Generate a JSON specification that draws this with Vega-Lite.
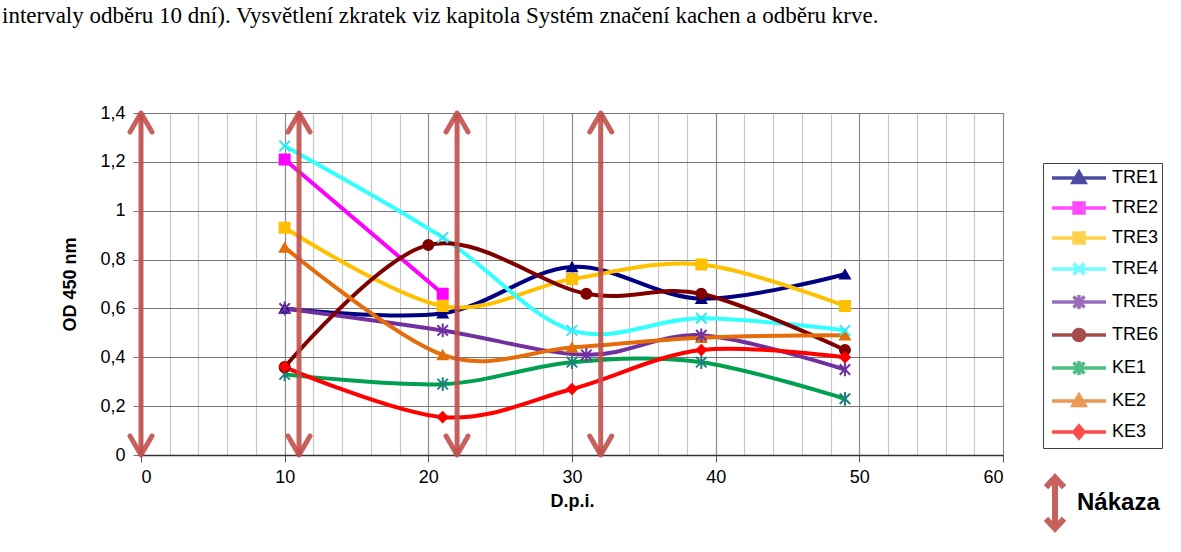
{
  "$schema": "https://vega.github.io/schema/vega-lite/v6.json",
  "width": 862,
  "height": 342,
  "autosize": {"type": "none"},
  "padding": {"left": 141, "top": 113, "right": 178, "bottom": 97},
  "background": "white",
  "title": {
    "text": "intervaly odběru 10 dní). Vysvětlení zkratek viz kapitola Systém značení kachen a odběru krve.",
    "anchor": "start",
    "frame": "group",
    "dx": -139,
    "offset": 58,
    "baseline": "alphabetic",
    "font": "Liberation Serif",
    "fontSize": 23,
    "fontWeight": "normal",
    "color": "black"
  },
  "config": {
    "view": {"stroke": null},
    "axis": {"labelFont": "Liberation Sans", "titleFont": "Liberation Sans", "labelColor": "black", "titleColor": "black"}
  },
  "resolve": {"axis": {"x": "independent"}},
  "datasets": {
    "series": [
      {"series": "TRE1", "day": 10, "od": 0.60},
      {"series": "TRE1", "day": 21, "od": 0.58},
      {"series": "TRE1", "day": 30, "od": 0.77},
      {"series": "TRE1", "day": 39, "od": 0.64},
      {"series": "TRE1", "day": 49, "od": 0.74},
      {"series": "TRE2", "day": 10, "od": 1.21},
      {"series": "TRE2", "day": 21, "od": 0.66},
      {"series": "TRE3", "day": 10, "od": 0.93},
      {"series": "TRE3", "day": 21, "od": 0.61},
      {"series": "TRE3", "day": 30, "od": 0.72},
      {"series": "TRE3", "day": 39, "od": 0.78},
      {"series": "TRE3", "day": 49, "od": 0.61},
      {"series": "TRE4", "day": 10, "od": 1.265},
      {"series": "TRE4", "day": 21, "od": 0.89},
      {"series": "TRE4", "day": 30, "od": 0.51},
      {"series": "TRE4", "day": 39, "od": 0.56},
      {"series": "TRE4", "day": 49, "od": 0.51},
      {"series": "TRE5", "day": 10, "od": 0.60},
      {"series": "TRE5", "day": 21, "od": 0.51},
      {"series": "TRE5", "day": 31, "od": 0.41},
      {"series": "TRE5", "day": 39, "od": 0.49},
      {"series": "TRE5", "day": 49, "od": 0.35},
      {"series": "TRE6", "day": 10, "od": 0.36},
      {"series": "TRE6", "day": 20, "od": 0.86},
      {"series": "TRE6", "day": 31, "od": 0.66},
      {"series": "TRE6", "day": 39, "od": 0.66},
      {"series": "TRE6", "day": 49, "od": 0.43},
      {"series": "KE1", "day": 10, "od": 0.33},
      {"series": "KE1", "day": 21, "od": 0.29},
      {"series": "KE1", "day": 30, "od": 0.38},
      {"series": "KE1", "day": 39, "od": 0.38},
      {"series": "KE1", "day": 49, "od": 0.23},
      {"series": "KE2", "day": 10, "od": 0.85},
      {"series": "KE2", "day": 21, "od": 0.41},
      {"series": "KE2", "day": 30, "od": 0.44},
      {"series": "KE2", "day": 39, "od": 0.48},
      {"series": "KE2", "day": 49, "od": 0.49},
      {"series": "KE3", "day": 10, "od": 0.36},
      {"series": "KE3", "day": 21, "od": 0.155},
      {"series": "KE3", "day": 30, "od": 0.27},
      {"series": "KE3", "day": 39, "od": 0.43},
      {"series": "KE3", "day": 49, "od": 0.40}
    ],
    "arrows": [
      {"day": 0}, {"day": 11}, {"day": 22}, {"day": 32}
    ]
  },
  "layer": [
    {
      "data": {"name": "series"},
      "mark": {"type": "point", "filled": true, "size": 0, "strokeWidth": 3.5},
      "encoding": {
        "x": {
          "field": "day", "type": "quantitative",
          "scale": {"domain": [0, 60], "nice": false},
          "axis": {
            "orient": "top",
            "values": [2,4,6,8,12,14,16,18,22,24,26,28,32,34,36,38,42,44,46,48,52,54,56,58],
            "labels": false,
            "ticks": false,
            "domain": false,
            "title": null,
            "grid": true,
            "gridColor": "#c8c8c8",
            "gridWidth": 1.2
          }
        },
        "y": {"field": "od", "type": "quantitative"},
        "color": {"field": "series", "type": "nominal"},
        "shape": {
          "field": "series", "type": "nominal",
          "scale": {
            "domain": ["TRE1", "TRE2", "TRE3", "TRE4", "TRE5", "TRE6", "KE1", "KE2", "KE3"],
            "range": [
              "M-2.7,0L2.7,0M0,-0.6L0.6,0.45L-0.6,0.45Z",
              "M-2.7,0L2.7,0M-0.5,-0.5L0.5,-0.5L0.5,0.5L-0.5,0.5Z",
              "M-2.7,0L2.7,0M-0.5,-0.5L0.5,-0.5L0.5,0.5L-0.5,0.5Z",
              "M-2.7,0L2.7,0M-0.55,-0.55L0.55,0.55M-0.55,0.55L0.55,-0.55",
              "M-2.7,0L2.7,0M-0.55,-0.55L0.55,0.55M-0.55,0.55L0.55,-0.55M0,-0.7L0,0.7",
              "M-2.7,0L2.7,0M0.55,0A0.55,0.55,0,1,1,-0.55,0A0.55,0.55,0,1,1,0.55,0Z",
              "M-2.7,0L2.7,0M-0.55,-0.55L0.55,0.55M-0.55,0.55L0.55,-0.55M0,-0.7L0,0.7",
              "M-2.7,0L2.7,0M0,-0.6L0.6,0.45L-0.6,0.45Z",
              "M-2.7,0L2.7,0M0,-0.6L0.5,0L0,0.6L-0.5,0Z"
            ]
          },
          "legend": null
        }
      }
    },
    {
      "data": {"name": "series"},
      "mark": {"type": "line", "interpolate": "cardinal", "strokeWidth": 4, "strokeCap": "round"},
      "encoding": {
        "x": {
          "field": "day", "type": "quantitative",
          "axis": {
            "orient": "bottom",
            "values": [0, 10, 20, 30, 40, 50, 60],
            "labelFontSize": 18,
            "labelPadding": 6,
            "title": "D.p.i.",
            "titleFontSize": 18,
            "titleFontWeight": "bold",
            "titlePadding": 6,
            "grid": true,
            "gridColor": "#8c8c8c",
            "gridWidth": 1.2,
            "tickColor": "#555555",
            "tickSize": 7,
            "domainColor": "#333333",
            "domainWidth": 1.5
          }
        },
        "y": {
          "field": "od", "type": "quantitative",
          "scale": {"domain": [0, 1.4], "nice": false},
          "axis": {
            "values": [0, 0.2, 0.4, 0.6, 0.8, 1, 1.2, 1.4],
            "labelExpr": "replace(format(datum.value, '~g'), '.', ',')",
            "labelFontSize": 18,
            "labelPadding": 8,
            "title": "OD 450 nm",
            "titleFontSize": 18,
            "titleFontWeight": "bold",
            "titlePadding": 20,
            "grid": true,
            "gridColor": "#777777",
            "gridWidth": 1.2,
            "tickColor": "#777777",
            "tickSize": 8,
            "domainColor": "#888888",
            "domainWidth": 1.5
          }
        },
        "color": {
          "field": "series", "type": "nominal",
          "scale": {
            "domain": ["TRE1", "TRE2", "TRE3", "TRE4", "TRE5", "TRE6", "KE1", "KE2", "KE3"],
            "range": ["#000080", "#FF00FF", "#FFC000", "#33FFFF", "#7030A0", "#800000", "#00A050", "#E46C0A", "#FF0000"]
          },
          "legend": {
            "title": null,
            "orient": "none",
            "legendX": 902,
            "legendY": 50,
            "padding": 3,
            "rowPadding": 6,
            "symbolSize": 400,
            "symbolOffset": 21,
            "symbolStrokeWidth": 3.5,
            "symbolOpacity": 1,
            "labelOffset": 21,
            "labelFont": "Liberation Sans",
            "labelFontSize": 18,
            "labelColor": "black",
            "labelExpr": "datum.label + '     '",
            "strokeColor": "#404040"
          }
        }
      }
    },
    {
      "data": {"name": "series"},
      "transform": [{"filter": {"field": "series", "oneOf": ["TRE1", "KE2"]}}],
      "mark": {"type": "point", "shape": "triangle-up", "size": 110, "strokeWidth": 1.5, "opacity": 1},
      "encoding": {
        "x": {"field": "day", "type": "quantitative", "axis": null},
        "y": {"field": "od", "type": "quantitative"},
        "fill": {"field": "series", "type": "nominal", "scale": {"domain": ["TRE1", "TRE2", "TRE3", "TRE4", "TRE5", "TRE6", "KE1", "KE2", "KE3"], "range": ["#000080", "#FF00FF", "#FFC000", "#33E8F0", "#7030A0", "#800000", "#218080", "#E46C0A", "#FF0000"]}, "legend": null},
        "stroke": {"field": "series", "type": "nominal", "scale": {"domain": ["TRE1", "TRE2", "TRE3", "TRE4", "TRE5", "TRE6", "KE1", "KE2", "KE3"], "range": ["#000080", "#FF00FF", "#FFC000", "#33E8F0", "#7030A0", "#800000", "#218080", "#E46C0A", "#FF0000"]}, "legend": null}
      }
    },
    {
      "data": {"name": "series"},
      "transform": [{"filter": {"field": "series", "oneOf": ["TRE2", "TRE3"]}}],
      "mark": {"type": "point", "shape": "square", "size": 110, "strokeWidth": 1.5, "opacity": 1},
      "encoding": {
        "x": {"field": "day", "type": "quantitative", "axis": null},
        "y": {"field": "od", "type": "quantitative"},
        "fill": {"field": "series", "type": "nominal", "legend": null},
        "stroke": {"field": "series", "type": "nominal", "legend": null}
      }
    },
    {
      "data": {"name": "series"},
      "transform": [{"filter": {"field": "series", "oneOf": ["TRE4"]}}],
      "mark": {"type": "point", "shape": "M-1,-1L1,1M-1,1L1,-1", "size": 110, "strokeWidth": 2, "opacity": 1},
      "encoding": {
        "x": {"field": "day", "type": "quantitative", "axis": null},
        "y": {"field": "od", "type": "quantitative"},
        "fill": {"field": "series", "type": "nominal", "legend": null},
        "stroke": {"field": "series", "type": "nominal", "legend": null}
      }
    },
    {
      "data": {"name": "series"},
      "transform": [{"filter": {"field": "series", "oneOf": ["TRE5", "KE1"]}}],
      "mark": {"type": "point", "shape": "M-1,-1L1,1M-1,1L1,-1M0,-1.3L0,1.3", "size": 110, "strokeWidth": 2, "opacity": 1},
      "encoding": {
        "x": {"field": "day", "type": "quantitative", "axis": null},
        "y": {"field": "od", "type": "quantitative"},
        "fill": {"field": "series", "type": "nominal", "legend": null},
        "stroke": {"field": "series", "type": "nominal", "legend": null}
      }
    },
    {
      "data": {"name": "series"},
      "transform": [{"filter": {"field": "series", "oneOf": ["TRE6"]}}],
      "mark": {"type": "point", "shape": "circle", "size": 110, "strokeWidth": 1.5, "opacity": 1},
      "encoding": {
        "x": {"field": "day", "type": "quantitative", "axis": null},
        "y": {"field": "od", "type": "quantitative"},
        "fill": {"field": "series", "type": "nominal", "legend": null},
        "stroke": {"field": "series", "type": "nominal", "legend": null}
      }
    },
    {
      "data": {"name": "series"},
      "transform": [{"filter": {"field": "series", "oneOf": ["KE3"]}}],
      "mark": {"type": "point", "shape": "diamond", "size": 110, "strokeWidth": 1.5, "opacity": 1},
      "encoding": {
        "x": {"field": "day", "type": "quantitative", "axis": null},
        "y": {"field": "od", "type": "quantitative"},
        "fill": {"field": "series", "type": "nominal", "legend": null},
        "stroke": {"field": "series", "type": "nominal", "legend": null}
      }
    },
    {
      "data": {"name": "arrows"},
      "mark": {"type": "rule", "color": "#C0504D", "strokeWidth": 5, "opacity": 0.9},
      "encoding": {
        "x": {"field": "day", "type": "quantitative", "axis": null},
        "y": {"datum": 0, "type": "quantitative"},
        "y2": {"datum": 1.4},
        "strokeDash": {
          "datum": "Nákaza", "type": "nominal",
          "scale": {"domain": ["Nákaza"], "range": [[1, 0]]},
          "legend": {
            "title": null,
            "orient": "none",
            "legendX": 896,
            "legendY": 372,
            "padding": 0,
            "symbolType": "M0,-1.7L0,1.7M-0.6,-1.05L0,-1.7L0.6,-1.05M-0.6,1.05L0,1.7L0.6,1.05",
            "symbolSize": 900,
            "symbolStrokeWidth": 6,
            "symbolStrokeColor": "#C0504D",
            "symbolOpacity": 0.9,
            "symbolOffset": 0,
            "labelOffset": 4,
            "labelFont": "Liberation Sans",
            "labelFontSize": 24,
            "labelFontWeight": "bold",
            "labelColor": "black"
          }
        }
      }
    },
    {
      "data": {"name": "arrows"},
      "mark": {"type": "point", "shape": "M-1.1,1.9L0,0L1.1,1.9", "size": 400, "filled": false, "color": "#C0504D", "strokeWidth": 5, "strokeCap": "round", "strokeJoin": "round", "opacity": 0.9},
      "encoding": {
        "x": {"field": "day", "type": "quantitative", "axis": null},
        "y": {"datum": 1.4, "type": "quantitative"}
      }
    },
    {
      "data": {"name": "arrows"},
      "mark": {"type": "point", "shape": "M-1.1,-1.9L0,0L1.1,-1.9", "size": 400, "filled": false, "color": "#C0504D", "strokeWidth": 5, "strokeCap": "round", "strokeJoin": "round", "opacity": 0.9},
      "encoding": {
        "x": {"field": "day", "type": "quantitative", "axis": null},
        "y": {"datum": 0, "type": "quantitative"}
      }
    }
  ]
}
